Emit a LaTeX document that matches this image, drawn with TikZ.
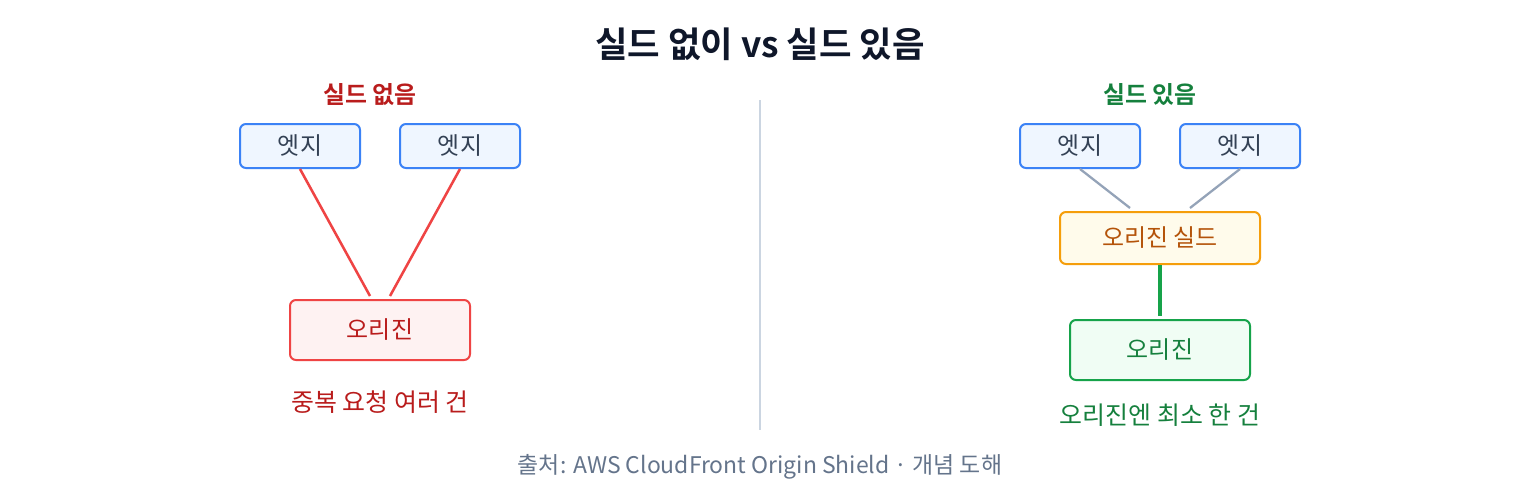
\documentclass[tikz,border=0pt]{standalone}
\usepackage{fontspec}
\setmainfont{Noto Sans CJK KR}
\newfontfamily\kbold{Noto Sans CJK KR Bold}
\usetikzlibrary{calc}
\definecolor{titlec}{HTML}{0F172A}
\definecolor{redtxt}{HTML}{B91C1C}
\definecolor{redln}{HTML}{EF4444}
\definecolor{redfill}{HTML}{FEF2F2}
\definecolor{greentxt}{HTML}{15803D}
\definecolor{greenln}{HTML}{16A34A}
\definecolor{greenfill}{HTML}{F0FDF4}
\definecolor{bluefill}{HTML}{EFF6FF}
\definecolor{blueln}{HTML}{3B82F6}
\definecolor{edgetxt}{HTML}{334155}
\definecolor{ambfill}{HTML}{FFFBEB}
\definecolor{ambln}{HTML}{F59E0B}
\definecolor{ambtxt}{HTML}{B45309}
\definecolor{grayln}{HTML}{94A3B8}
\definecolor{divc}{HTML}{CBD5E1}
\definecolor{foot}{HTML}{64748B}
\begin{document}
\begin{tikzpicture}[x=0.75pt,y=-0.75pt,
  box/.style={draw,rounded corners=4.5pt,line width=1.5pt,inner sep=0pt,font=\fontsize{18}{22}\selectfont},
  edgebox/.style={box,fill=bluefill,draw=blueln,text=edgetxt,minimum width=90pt,minimum height=33pt},
  redorig/.style={box,fill=redfill,draw=redln,text=redtxt,minimum width=135pt,minimum height=45pt},
  greenorig/.style={box,fill=greenfill,draw=greenln,text=greentxt,minimum width=135pt,minimum height=45pt},
  shieldbox/.style={box,fill=ambfill,draw=ambln,text=ambtxt,minimum width=150pt,minimum height=39pt},
  head/.style={font=\kbold\fontsize{17.9}{21}\selectfont},
  captxt/.style={font=\fontsize{18.7}{22}\selectfont},
  conn/.style={line width=1.9pt}
]
\useasboundingbox (0,0) rectangle (1520,500);
\fill[white] (0,0) rectangle (1520,500);
\node[font=\kbold\fontsize{26.5}{31}\selectfont,text=titlec] (title) at (760,44) {실드 없이 vs 실드 있음};
% divider
\coordinate (d1) at (760,100);
\coordinate (d2) at (760,430);
\draw[divc,line width=1.2pt] (d1) -- (d2);
% left
\node[head,text=redtxt] (lh) at (370,95) {실드 없음};
\node[edgebox] (le1) at (300,146) {엣지};
\node[edgebox] (le2) at (460,146) {엣지};
\node[redorig] (lo) at (380,330) {오리진};
\coordinate (la) at (370,296);
\coordinate (lb) at (390,296);
\draw[conn,redln] (le1.south) -- (la);
\draw[conn,redln] (le2.south) -- (lb);
\node[captxt,text=redtxt] (lc) at (380,402) {중복 요청 여러 건};
% right
\node[head,text=greentxt] (rh) at (1150,95) {실드 있음};
\node[edgebox] (re1) at (1080,146) {엣지};
\node[edgebox] (re2) at (1240,146) {엣지};
\node[shieldbox] (rs) at (1160,238) {오리진 실드};
\node[greenorig] (ro) at (1160,350) {오리진};
\coordinate (ra) at (1130,208);
\coordinate (rb) at (1190,208);
\coordinate (rc) at (1160,316);
\draw[conn,grayln,line width=1.7pt] (re1.south) -- (ra);
\draw[conn,grayln,line width=1.7pt] (re2.south) -- (rb);
\draw[conn,greenln,line width=2.3pt] (rs.south) -- (rc);
\node[captxt,text=greentxt] (rcap) at (1160,415) {오리진엔 최소 한 건};
% footer
\node[font=\fontsize{17.2}{20}\selectfont,text=foot] (ft) at (760,467) {출처: AWS CloudFront Origin Shield · 개념 도해};
\end{tikzpicture}
\end{document}
